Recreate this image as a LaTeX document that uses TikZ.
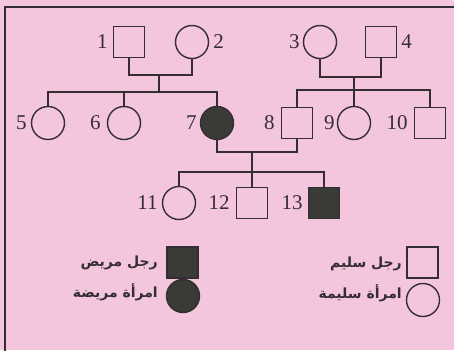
\documentclass[tikz,border=0pt]{standalone}
\usepackage{fontspec}
\setmainfont{Liberation Serif}
\newfontfamily\arabicfont[Script=Arabic]{DejaVu Sans}
\TeXXeTstate=1
\definecolor{bg}{RGB}{244,198,222}
\definecolor{ink}{RGB}{52,46,50}
\definecolor{fillc}{RGB}{58,58,54}
\begin{document}
\begin{tikzpicture}[x=1pt,y=-1pt,
  line/.style={draw=ink,line width=1.4pt},
  male/.style={rectangle,draw=ink,line width=1.4pt,minimum width=31pt,minimum height=31pt,inner sep=0pt},
  female/.style={circle,draw=ink,line width=1.4pt,minimum size=33pt,inner sep=0pt},
  affected/.style={fill=fillc},
  num/.style={font=\fontsize{21}{21}\selectfont,inner sep=0pt,text=ink},
  legtext/.style={font=\arabicfont\bfseries\fontsize{14}{14}\selectfont,inner sep=0pt,anchor=east,text=ink}]
\fill[bg] (0,0) rectangle (454,350);
\useasboundingbox (0,0) rectangle (454,350);
\draw[ink,line width=1.2pt] (5,370) -- (5,7) -- (470,7);
% generation I
\node[male]   (n1) at (129,42) [label={[num,label distance=5pt]left:1}] {};
\node[female] (n2) at (192,42) [label={[num,label distance=4pt]right:2}] {};
\node[female] (n3) at (320,42) [label={[num,label distance=3pt]left:3}] {};
\node[male]   (n4) at (381,42) [label={[num,label distance=4pt]right:4}] {};
% generation II
\node[female] (n5) at (48,123) [label={[num,label distance=4pt]left:5}] {};
\node[female] (n6) at (124,123) [label={[num,label distance=6pt]left:6}] {};
\node[female,affected] (n7) at (217,123) [label={[num,label distance=3pt]left:7}] {};
\node[male]   (n8) at (297,123) [label={[num,label distance=6pt]left:8}] {};
\node[female] (n9) at (354,123) [label={[num,label distance=2pt]left:9}] {};
\node[male]   (n10) at (430,123) [label={[num,label distance=6pt]left:10}] {};
% generation III
\node[female] (n11) at (179,203) [label={[num,label distance=4pt]left:11}] {};
\node[male]   (n12) at (252,203) [label={[num,label distance=6pt]left:12}] {};
\node[male,affected] (n13) at (324,203) [label={[num,label distance=5pt]left:13}] {};
% connectors
\coordinate (m12) at (159,75);
\coordinate (s1) at (159,92);
\draw[line] (n1.south) |- (m12) -| (n2.south);
\draw[line] (m12) -- (s1);
\draw[line] (n5.north) |- (s1) -| (n7.north);
\draw[line] (n6.north) -- (n6.north |- s1);
\coordinate (m34) at (354,77);
\coordinate (s2) at (354,90);
\draw[line] (n3.south) |- (m34) -| (n4.south);
\draw[line] (m34) -- (s2);
\draw[line] (n8.north) |- (s2) -| (n10.north);
\draw[line] (s2) -- (n9.north);
\coordinate (m78) at (252,152);
\coordinate (s3) at (252,172);
\draw[line] (n7.south) |- (m78) -| (n8.south);
\draw[line] (m78) -- (s3);
\draw[line] (n11.north) |- (s3) -| (n13.north);
\draw[line] (s3) -- (n12.north);
% legend
\node[male,affected] (lma) at (182.5,262.5) {};
\node[female,affected] (lfa) at (183,296) {};
\node[male] (lmh) at (422.5,262.5) {};
\node[female] (lfh) at (423,300) {};
\node[legtext] (tma) at (158,263) {\beginR رجل مريض\endR};
\node[legtext] (tfa) at (158,292) {\beginR امرأة مريضة\endR};
\node[legtext] (tmh) at (402,264) {\beginR رجل سليم\endR};
\node[legtext] (tfh) at (402,293) {\beginR امرأة سليمة\endR};
\end{tikzpicture}
\end{document}
